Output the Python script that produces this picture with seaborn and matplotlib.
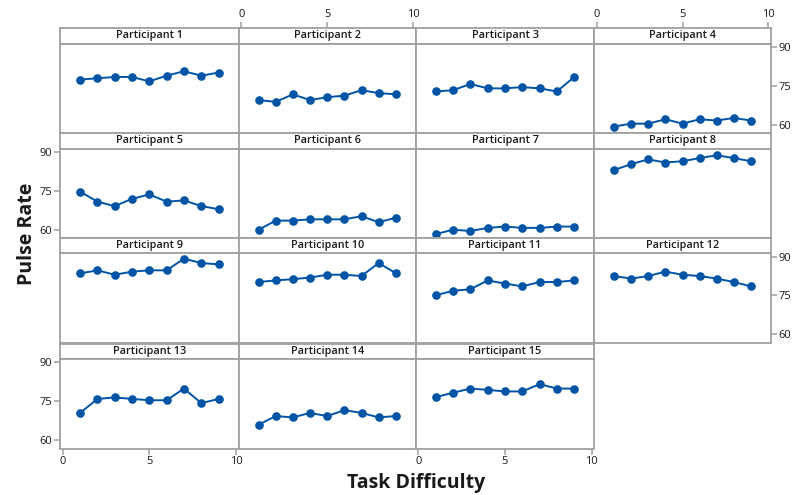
import numpy as np
import pandas as pd
import matplotlib
matplotlib.use("Agg")
import matplotlib.pyplot as plt
import seaborn as sns

task_difficulty = [1, 2, 3, 4, 5, 6, 7, 8, 9]
participants = [f"Participant {i}" for i in range(1, 16)]
pulse_p1 = [77.4, 77.9, 78.4, 78.4, 76.7, 78.9, 80.6, 78.9, 80.1]
pulse_p2 = [69.5, 68.8, 71.7, 69.5, 70.6, 71.2, 73.3, 72.2, 71.7]
pulse_p3 = [72.8, 73.3, 75.7, 74.0, 74.0, 74.5, 74.0, 72.8, 78.4]
pulse_p4 = [59.3, 60.4, 60.4, 62.1, 60.4, 62.1, 61.6, 62.6, 61.6]
pulse_p5 = [74.7, 70.8, 69.1, 71.9, 73.6, 70.8, 71.3, 69.1, 67.9]
pulse_p6 = [60.0, 63.5, 63.5, 64.0, 64.0, 64.0, 65.2, 62.9, 64.6]
pulse_p7 = [58.3, 60.0, 59.5, 60.7, 61.2, 60.7, 60.7, 61.2, 61.2]
pulse_p8 = [83.0, 85.3, 87.1, 85.9, 86.4, 87.6, 88.7, 87.6, 86.4]
pulse_p9 = [83.5, 84.7, 83.0, 84.2, 84.7, 84.7, 89.2, 87.5, 87.0]
pulse_p10 = [80.2, 80.8, 81.3, 81.9, 83.0, 83.0, 82.5, 87.5, 83.6]
pulse_p11 = [75.1, 76.8, 77.4, 80.8, 79.6, 78.5, 80.2, 80.2, 80.8]
pulse_p12 = [82.5, 81.5, 82.5, 84.2, 83.0, 82.5, 81.5, 80.2, 78.5]
pulse_p13 = [70.5, 75.9, 76.5, 75.9, 75.4, 75.4, 79.9, 74.3, 75.9]
pulse_p14 = [66.0, 69.3, 68.8, 70.5, 69.3, 71.6, 70.5, 68.8, 69.3]
pulse_p15 = [76.6, 78.3, 79.9, 79.4, 78.8, 78.8, 81.6, 79.9, 79.9]
x_ticks = [0, 5, 10]
y_ticks = [60, 75, 90]

all_pulse = [pulse_p1, pulse_p2, pulse_p3, pulse_p4, pulse_p5, pulse_p6, pulse_p7,
             pulse_p8, pulse_p9, pulse_p10, pulse_p11, pulse_p12, pulse_p13,
             pulse_p14, pulse_p15]
rows = []
for name, vals in zip(participants, all_pulse):
    for x, y in zip(task_difficulty, vals):
        rows.append({"Participant": name, "Task Difficulty": x, "Pulse Rate": y})
df = pd.DataFrame(rows)

sns.set_theme(style="white")
plt.rcParams["font.family"] = ["Open Sans", "DejaVu Sans"]

W, H = 794, 495
fig = plt.figure(figsize=(W / 100, H / 100), dpi=100)

col_edges = [60, 238.7, 415.7, 594.3, 770.7]
row_tops = [28, 133, 237.7, 343.5]
strip_h = 15.5
plot_h = 89.5
edge = "#A0A0A0"
line_col = "#0054A6"
xlim = (-0.16, 10.16)
ylim = (56.8, 91.3)

def fr(px_left, px_top, w, h):
    return [px_left / W, 1 - (px_top + h) / H, w / W, h / H]

for i, name in enumerate(participants):
    r, c = divmod(i, 4)
    left = col_edges[c]
    w = col_edges[c + 1] - col_edges[c]
    top = row_tops[r]
    # strip
    sax = fig.add_axes(fr(left, top, w, strip_h))
    sax.set_xlim(xlim)
    sax.set_facecolor("white")
    sax.set_yticks([])
    sax.text(0.5, 0.5, name, transform=sax.transAxes, ha="center", va="center",
             fontsize=7.8, fontweight="semibold", color="#1a1a1a")
    for s in sax.spines.values():
        s.set_color(edge)
        s.set_linewidth(1.3)
    if r == 0 and c in (1, 3):
        sax.xaxis.tick_top()
        sax.set_xticks(x_ticks)
        sax.tick_params(axis="x", top=True, bottom=False, direction="out", length=4,
                        width=1.1, color=edge, labelsize=8, pad=1.5, labelcolor="#1a1a1a")
    else:
        sax.set_xticks([])
    # plot
    ax = fig.add_axes(fr(left, top + strip_h, w, plot_h))
    sub = df[df["Participant"] == name]
    sns.lineplot(data=sub, x="Task Difficulty", y="Pulse Rate", ax=ax, color=line_col,
                 marker="o", markersize=6.2, markeredgewidth=0, linewidth=1.4)
    ax.set_xlim(xlim)
    ax.set_ylim(ylim)
    ax.set_xlabel("")
    ax.set_ylabel("")
    for s in ax.spines.values():
        s.set_color(edge)
        s.set_linewidth(1.3)
    ax.set_xticks(x_ticks)
    ax.set_yticks(y_ticks)
    tp = dict(direction="out", length=4, width=1.1, color=edge, labelsize=8,
              pad=1.5, labelcolor="#1a1a1a")
    show_bottom = (r == 3 and c in (0, 2))
    ax.tick_params(axis="x", bottom=show_bottom, labelbottom=show_bottom,
                   top=False, labeltop=False, **tp)
    show_left = (c == 0 and r in (1, 3))
    show_right = (c == 3 and r in (0, 2))
    ax.tick_params(axis="y", left=show_left, labelleft=show_left,
                   right=show_right, labelright=show_right, **tp)

fig.text(416 / W, 1 - 483 / H, "Task Difficulty", ha="center", va="center",
         fontsize=14, fontweight="bold", color="#1a1a1a")
fig.text(27 / W, 1 - 234 / H, "Pulse Rate", ha="center", va="center", rotation=90,
         fontsize=14, fontweight="bold", color="#1a1a1a")

fig.savefig("out.png", dpi=100)
